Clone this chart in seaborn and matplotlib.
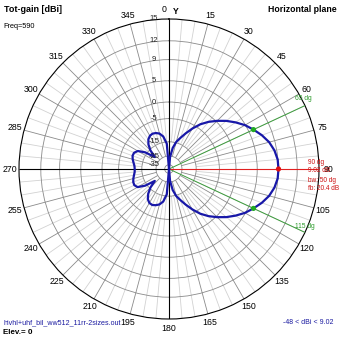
import numpy as np
import matplotlib
matplotlib.use("Agg")
import matplotlib.pyplot as plt
import matplotlib.transforms as mtransforms
import seaborn as sns

# Horizontal-plane total gain pattern, azimuth clockwise from north (deg) / dBi
azimuth_deg = [0, 5, 10, 15, 20, 25, 30, 35, 40, 45, 50, 55, 60, 65, 70, 75, 80, 85,
               90, 95, 100, 105, 110, 115, 120, 125, 130, 135, 140, 145, 150, 155, 160,
               165, 170, 175, 180, 185, 190, 195, 200, 205, 210, 215, 220, 225, 230, 235,
               240, 245, 250, 255, 260, 265, 270, 275, 280, 285, 290, 295, 300, 305, 310,
               315, 320, 325, 330, 335, 340, 345, 350, 355, 360]
gain_dbi = [-48, -26, -18.5, -14.5, -12, -9.2, -6.3, -3.6, -1.5, 0.3, 2.0, 3.5, 4.9, 6.02,
            7.1, 8.0, 8.6, 8.95,
            9.02, 8.95, 8.6, 8.0, 7.1, 6.02, 4.9, 3.5, 2.0, 0.3, -1.5, -3.6, -6.3, -9.2, -12,
            -14.5, -18.5, -26, -48, -16, -12, -10.3, -9.5, -9.0, -9.2, -10.2, -12.3, -15.5,
            -20.5, -14,
            -10.5, -9.6, -9.7, -10.2, -10.8, -11.3, -11.38, -11.2, -10.6, -9.9, -9.4, -9.5,
            -10.6, -14, -20.5,
            -15.5, -12.5, -10.6, -9.6, -9.3, -9.6, -10.3, -12, -16, -48]

peak_az = [90]
peak_gain = [9.02]
halfpower_az = [65, 115]
halfpower_gain = [6.02, 6.02]

ring_levels = [15, 12, 9, 5, 0, -5, -15, -25, -35]
angle_ticks = list(range(0, 360, 15))
angle_labels = ["" if a == 0 else str(a) for a in angle_ticks]

# compressed dB radial scale (log-periodic rings)
A, K, B = 76.5, 0.049, 9.5
G0 = np.log(B / A) / K


def fwd(g):
    g = np.maximum(np.asarray(g, dtype=float), G0)
    return A * np.exp(K * g) - B


def inv(r):
    r = np.asarray(r, dtype=float)
    return np.log(np.maximum(r + B, 1e-9) / A) / K


plt.rcParams["font.family"] = ["Liberation Sans", "DejaVu Sans"]

W = H = 339
fig = plt.figure(figsize=(W / 100, H / 100), dpi=100)
fig.patch.set_facecolor("white")
ax = fig.add_axes([19 / W, 20 / H, 300 / W, 300 / H], projection="polar")
ax.set_theta_zero_location("N")
ax.set_theta_direction(-1)
ax.set_yscale("function", functions=(fwd, inv))
ax.set_ylim(G0, 15)

# rings
ax.set_rgrids(ring_levels[1:], labels=[""] * (len(ring_levels) - 1))
ax.yaxis.grid(True, color="#8a8a8a", lw=0.6)
ax.spines["polar"].set_color("black")
ax.spines["polar"].set_linewidth(0.8)

# angle labels
ax.set_thetagrids(angle_ticks, angle_labels, fontsize=6.3)
ax.xaxis.grid(False)
ax.tick_params(axis="x", pad=-4, colors="black")

# radial spokes
minor = np.deg2rad([a for a in range(0, 360, 5) if a % 15])
major = np.deg2rad([a for a in range(0, 360, 15) if a % 90])
ax.vlines(minor, -15, 15, color="#d2d2d2", lw=0.6, zorder=1)
ax.vlines(major, -25, 15, color="#8a8a8a", lw=0.6, zorder=1)
ax.vlines(np.deg2rad([0, 180, 270]), G0, 15, color="black", lw=0.8, zorder=2)

# beam markers
ax.vlines(np.deg2rad(halfpower_az), G0, 15, color="#3c9c3c", lw=0.7, zorder=3)
ax.vlines(np.deg2rad(peak_az), G0, 15, color="#e02020", lw=0.8, zorder=3)

# pattern
sns.lineplot(x=np.deg2rad(azimuth_deg), y=gain_dbi, sort=False, estimator=None,
             color="#1818a8", lw=1.6, ax=ax, zorder=4)
sns.scatterplot(x=np.deg2rad(halfpower_az), y=halfpower_gain, color="#22aa22", s=14,
                edgecolor="none", ax=ax, zorder=5)
sns.scatterplot(x=np.deg2rad(peak_az), y=peak_gain, color="#e01010", s=14,
                edgecolor="none", ax=ax, zorder=5)
ax.set_xlabel("")
ax.set_ylabel("")

# ring labels along the north axis
lab_tr = ax.transData + mtransforms.Affine2D().translate(-15, 0)
for lv in ring_levels:
    ax.text(0, lv, str(lv), transform=lab_tr, ha="center", va="center",
            fontsize=5.5, color="#222222", zorder=6, clip_on=False)


def px(x, y):
    return x / W, 1 - y / H


fig.text(*px(4, 9), "Tot-gain [dBi]", fontsize=6.5, fontweight="bold", va="center")
fig.text(*px(3, 26), "Freq=590", fontsize=5.3, va="center")
fig.text(*px(268, 9), "Horizontal plane", fontsize=6.3, fontweight="bold", va="center")
fig.text(*px(164.5, 9), "0", fontsize=6.3, ha="center", va="center")
fig.text(*px(176, 11), "Y", fontsize=6.3, fontweight="bold", ha="center", va="center")

fig.text(*px(3, 323), "hivhl+uhf_bil_ww512_11rr-2sizes.out", fontsize=5.1,
         color="#1a1aa0", va="center")
fig.text(*px(3, 333), "Elev.= 0", fontsize=5.8, fontweight="bold", va="center")
fig.text(*px(283, 323), "-48 < dBi < 9.02", fontsize=5.0, color="#1a1aa0", va="center")

red = "#cc1010"
for yy, s in [(162, "90 dg"), (171, "9.02 dB"), (180, "bw: 50 dg"), (189, "fb: 20.4 dB")]:
    fig.text(*px(308, yy), s, fontsize=4.7, color=red, va="center")
fig.text(*px(295, 99), "65 dg", fontsize=4.8, color="#2a9a2a", va="center")
fig.text(*px(295, 226), "115 dg", fontsize=4.8, color="#2a9a2a", va="center")

fig.savefig("out.png", dpi=100)
